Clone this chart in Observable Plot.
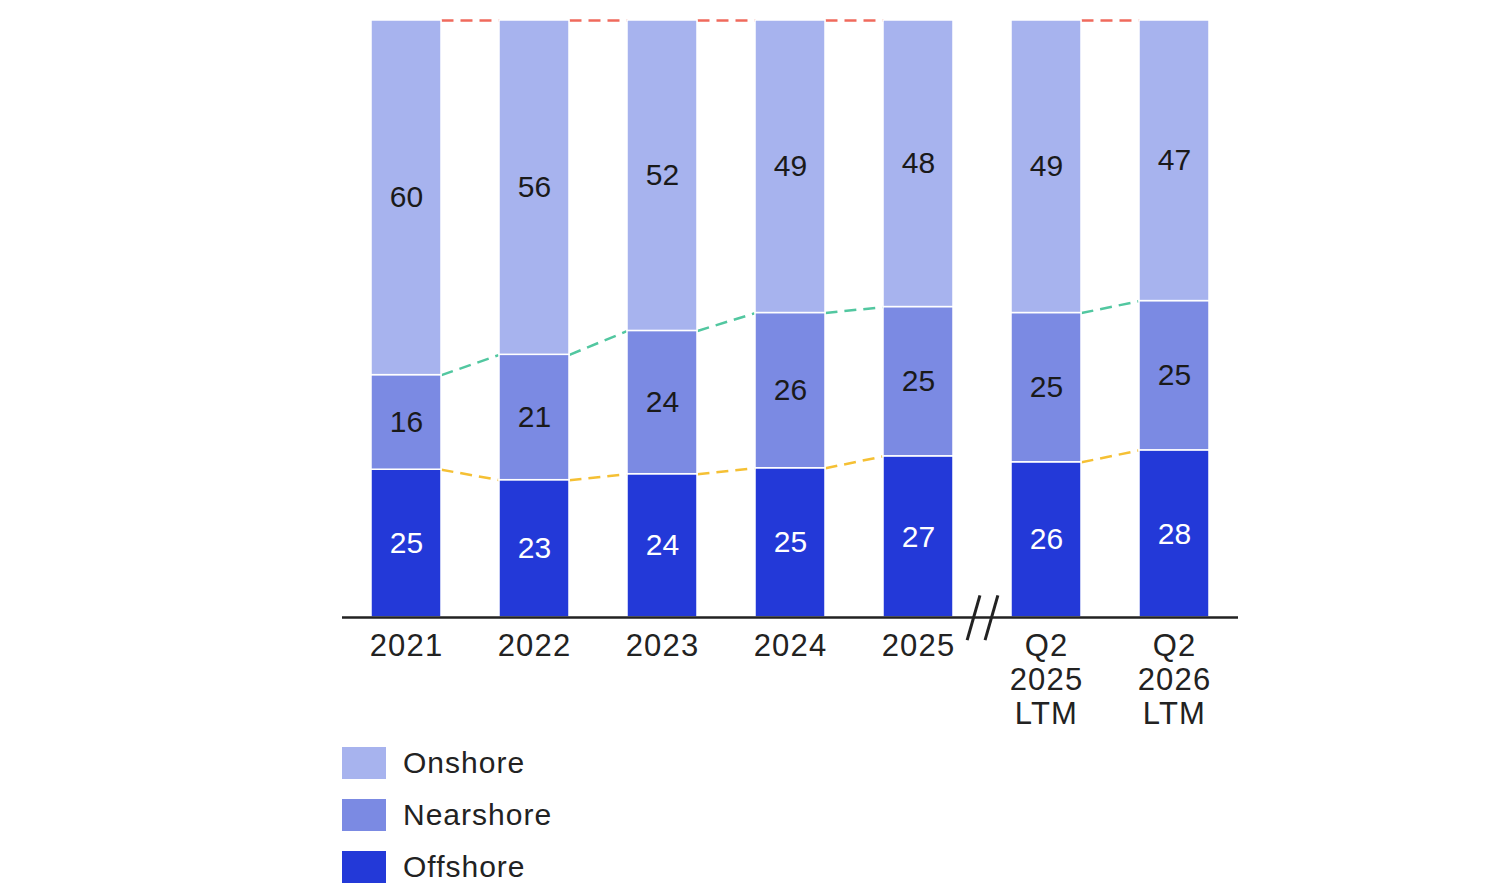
<!DOCTYPE html>
<html><head><meta charset="utf-8">
<script src="https://cdn.jsdelivr.net/npm/d3@7"></script>
<script src="https://cdn.jsdelivr.net/npm/@observablehq/plot@0.6"></script>
<style>
body{margin:0;background:#fff;font-family:"Liberation Sans",Arial,sans-serif;}
#legend{margin-left:342px;margin-top:2px}
.row{display:flex;align-items:center;height:52px}
.sw{width:44px;height:32px;margin-right:17px}
.lab{font-size:30px;color:#222;letter-spacing:1px}
</style></head><body>
<div id="chart"></div><div id="legend"></div>
<script>
const categories = ["2021","2022","2023","2024","2025","Q2\n2025\nLTM","Q2\n2026\nLTM"];
const segments = ["Offshore","Nearshore","Onshore"];
const offshore = [25,23,24,25,27,26,28];
const nearshore = [16,21,24,26,25,25,25];
const onshore = [60,56,52,49,48,49,47];
const connectorPairs = [[0,1],[1,2],[2,3],[3,4],[5,6]];
const breakAfter = 4;

const segColors = ["#2339d8","#7b8ae3","#a7b3ee"];
const lineColors = ["#f5c034","#52c7a0","#f06a5c"];
const hw = 0.2734;

const series = [offshore, nearshore, onshore];
const rows = [];
categories.forEach((c, i) => {
  segments.forEach((s, k) => rows.push({i, cat: c, seg: s, value: series[k][i]}));
});
const bounds = categories.map((c, i) => {
  const t = offshore[i] + nearshore[i] + onshore[i];
  return [offshore[i] / t, (offshore[i] + nearshore[i]) / t, 1];
});
const links = [];
connectorPairs.forEach(([a, b]) => {
  [0,1,2].forEach(k => links.push({x1: a + hw, x2: b - hw, y1: bounds[a][k], y2: bounds[b][k], k}));
});
const slashes = [-0.07, 0.07].map(o => ({x1: breakAfter + 0.5 + o - 0.05, x2: breakAfter + 0.5 + o + 0.05, y1: -0.038, y2: 0.037}));

const chart = Plot.plot({
  width: 1496,
  height: 735,
  marginLeft: 342,
  marginRight: 258,
  marginTop: 20,
  marginBottom: 118,
  style: {fontFamily: '"Liberation Sans", Arial, sans-serif', background: "#fff"},
  x: {domain: [-0.5, 6.5]},
  y: {domain: [0, 1], axis: null},
  color: {domain: segments, range: segColors},
  marks: [
    Plot.link(links, {x1: "x1", x2: "x2", y1: "y1", y2: "y2", stroke: d => lineColors[d.k], strokeWidth: 2.5, strokeDasharray: "12,7"}),
    Plot.rectY(rows, Plot.stackY({x: "i", x1: d => d.i - hw, x2: d => d.i + hw, y: "value", fill: "seg", offset: "normalize", stroke: "white", strokeWidth: 1.5})),
    Plot.text(rows, Plot.stackY({x: "i", y: "value", text: d => d.seg === "Offshore" ? String(d.value) : null, offset: "normalize", fill: "white", fontSize: 30})),
    Plot.text(rows, Plot.stackY({x: "i", y: "value", text: d => d.seg !== "Offshore" ? String(d.value) : null, offset: "normalize", fill: "#1a1a1a", fontSize: 30})),
    Plot.ruleY([0], {stroke: "#222", strokeWidth: 2.5}),
    Plot.link(slashes, {x1: "x1", x2: "x2", y1: "y1", y2: "y2", stroke: "#222", strokeWidth: 3}),
    Plot.axisX({ticks: d3.range(categories.length), tickFormat: i => categories[i], tickSize: 0, tickPadding: 14, fontSize: 31, lineHeight: 1.1, label: null, fill: "#222"})
  ]
});
d3.select(chart).selectAll('g[aria-label="x-axis tick label"]').attr("letter-spacing", "1.2px");
document.getElementById("chart").appendChild(chart);

const legend = document.getElementById("legend");
[2,1,0].forEach(k => {
  const r = document.createElement("div"); r.className = "row";
  const sw = document.createElement("div"); sw.className = "sw"; sw.style.background = segColors[k];
  const lb = document.createElement("div"); lb.className = "lab"; lb.textContent = segments[k];
  r.appendChild(sw); r.appendChild(lb); legend.appendChild(r);
});
</script>
</body></html>
